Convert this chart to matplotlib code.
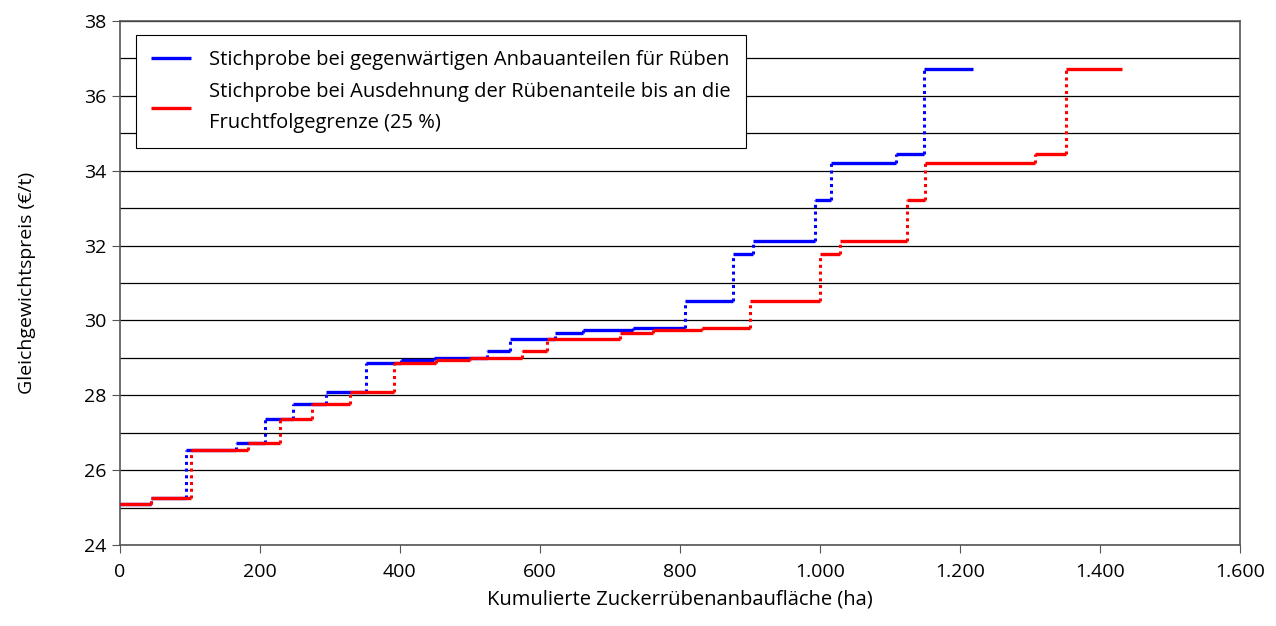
import matplotlib
matplotlib.use("Agg")
import matplotlib.pyplot as plt
from matplotlib.ticker import FuncFormatter, MultipleLocator

# price levels (€/t), shared by both samples
prices = [25.10, 25.25, 26.54, 26.72, 27.36, 27.76, 28.10, 28.85, 28.93, 28.99,
          29.17, 29.50, 29.67, 29.74, 29.81, 30.53, 31.77, 32.12, 33.22, 34.20,
          34.45, 36.71]
# cumulative area (ha) at the end of each step
blue_x = [45, 94, 166, 207, 247, 294, 351, 402, 448, 525, 557, 621, 662, 733,
          807, 876, 905, 993, 1016, 1109, 1149, 1219]
red_x = [45, 102, 183, 228, 275, 328, 392, 452, 500, 574, 610, 714, 762, 831,
         900, 1000, 1029, 1125, 1150, 1307, 1351, 1432]

label_blue = "Stichprobe bei gegenwärtigen Anbauanteilen für Rüben"
label_red = "Stichprobe bei Ausdehnung der Rübenanteile bis an die\nFruchtfolgegrenze (25 %)"

plt.rcParams['font.family'] = ['Open Sans', 'DejaVu Sans']

fig = plt.figure(figsize=(12.76, 6.26), dpi=100)
ax = fig.add_axes([0.094, 0.1294, 0.8777, 0.8371])


def draw_steps(ax, xs, ys, color, label):
    starts = [0] + xs[:-1]
    ax.hlines(ys, starts, xs, colors=color, linewidth=2.4, label=label, zorder=3)
    ax.vlines(xs[:-1], ys[:-1], ys[1:], colors=color, linewidth=2.2,
              linestyles=(0, (1, 1.2)), zorder=3)


draw_steps(ax, blue_x, prices, "#0000ff", label_blue)
draw_steps(ax, red_x, prices, "#ff0000", label_red)

ax.set_xlim(0, 1600)
ax.set_ylim(24, 38)
ax.xaxis.set_major_locator(MultipleLocator(200))
ax.yaxis.set_major_locator(MultipleLocator(2))
ax.yaxis.set_minor_locator(MultipleLocator(1))
ax.xaxis.set_major_formatter(FuncFormatter(lambda v, p: f"{int(v):,}".replace(",", ".")))
ax.grid(axis='y', which='both', color='black', linewidth=0.9, zorder=0)
ax.tick_params(axis='both', which='major', labelsize=14, length=6, color='#555555')
ax.tick_params(axis='y', which='minor', length=0)
ax.tick_params(axis='x', pad=7)
for s in ax.spines.values():
    s.set_color('#555555')
    s.set_linewidth(1.2)

ax.set_xlabel("Kumulierte Zuckerrübenanbaufläche (ha)", fontsize=14.5, labelpad=6)
ax.set_ylabel("Gleichgewichtspreis (€/t)", fontsize=14, labelpad=35)

leg = ax.legend(loc='upper left', bbox_to_anchor=(0.0143, 0.973), borderaxespad=0,
                fontsize=14.5, fancybox=False, framealpha=1, edgecolor='black',
                handlelength=2.0, handletextpad=0.9, borderpad=0.75, labelspacing=0.6)
leg.get_frame().set_linewidth(0.8)
leg.get_texts()[1].set_linespacing(1.7)

plt.savefig("out.png", dpi=100)
